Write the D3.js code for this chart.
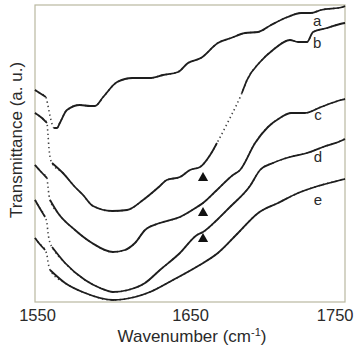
<!DOCTYPE html>
<html>
<head>
<meta charset="utf-8">
<script src="https://cdn.jsdelivr.net/npm/d3@7"></script>
<style>
  body { margin: 0; background: #fff; }
  text { font-family: "Liberation Sans", Arial, sans-serif; fill: #2a2a2a; }
</style>
</head>
<body>
<script>
// spectra: [wavenumber, transmittance (a.u.)]
const curveA = [[1550,212],[1553,209],[1557,205],[1558.4,196],[1559.7,186],[1561,178],[1562.3,174],[1564.2,174],
  [1566,179],[1570.6,192],[1579,197],[1585.5,196],[1588.7,196],[1594,205],[1603,220],[1613,224],[1624,224],
  [1632.6,227],[1642.3,230],[1648.7,239],[1657,244],[1668,259],[1676.5,264],[1685.5,269],[1694,270],
  [1702.3,277],[1713,285],[1721.6,289],[1728,289],[1734.5,292],[1748.7,295],[1750,296]];
const curveB = [[1550,189],[1554.5,184],[1557.7,179],[1558.4,167],[1559,154],[1559.7,145],[1561,139],[1568,129],
  [1575.8,115],[1581,107],[1587.4,96],[1599.7,91],[1609.4,92],[1619.7,102],[1630.6,116],[1635,122],
  [1643.5,125],[1650,132],[1656.5,135],[1663,147],[1667.4,159],[1675.8,184],[1683.5,209],[1686.8,222],
  [1695.2,240],[1703.5,252],[1714.5,262],[1719.7,260],[1725.5,260],[1729.4,270],[1738.4,274],[1746.8,278],[1750,279]];
const curveC = [[1550,137],[1554,130],[1557.7,124],[1558.4,115],[1559,107],[1559.7,102],[1564.8,89],[1575.8,72],
  [1586.8,59],[1600.3,50],[1608,52],[1614.5,59],[1621,72],[1630.6,79],[1643.5,85],[1654.5,95],[1658.4,99],
  [1667.4,112],[1677.7,127],[1682.3,132],[1692,159],[1700.3,175],[1708,184],[1715.2,189],[1724.2,189],
  [1734.5,195],[1747.4,202],[1750,203]];
const curveD = [[1550,102],[1553,94],[1556.5,85],[1557.7,79],[1558.4,69],[1559.7,59],[1561,55],[1569.4,39],
  [1582.3,22],[1592,14],[1600.3,10],[1610,12],[1621,19],[1630.6,32],[1643.5,49],[1654.5,67],[1658.4,70],
  [1667.4,82],[1675.8,95],[1688.7,116],[1695.2,132],[1703.5,139],[1714.5,145],[1725.5,149],[1735.8,155],
  [1748.7,162],[1750,163]];
const curveE = [[1550,64],[1553,58],[1556.5,52],[1557.7,47],[1558.4,40],[1559.7,32],[1569.4,19],[1582.3,9],
  [1600.3,2],[1614.5,5],[1624.2,10],[1639,22],[1655.2,36],[1668,49],[1681,69],[1694,89],[1706.8,99],
  [1719.7,109],[1732.6,116],[1747.4,122],[1750,123]];

const curveNames = ['a', 'b', 'c', 'd', 'e'];
const curves = [curveA, curveB, curveC, curveD, curveE];
// wavenumber spans where the scanned trace is only sparse dots
const sparseSpans = [
  [[1557, 1562.3]],
  [[1557.7, 1561]],
  [[1557.7, 1559.7]],
  [[1556.5, 1561]],
  [[1556.5, 1559.7]]
];
sparseSpans[1].push([1667.4, 1683.5]);

const labelPos = [[1732, 281], [1732, 259], [1732.6, 187], [1732.6, 145], [1732.6, 102]];
const markers = [[1658.4, 124], [1658.4, 89], [1658.4, 63]];
const tickValues = [1550, 1650, 1750];

const W = 356, H = 346;
const M = { left: 35, right: 345, top: 5, bottom: 302 };

const svg = d3.select('body').append('svg').attr('width', W).attr('height', H);

const x = d3.scaleLinear().domain([1550, 1750]).range([M.left, M.right]);
const y = d3.scaleLinear().domain([0, 297]).range([M.bottom, M.top]);

svg.append('rect')
  .attr('x', M.left).attr('y', M.top)
  .attr('width', M.right - M.left).attr('height', M.bottom - M.top)
  .attr('fill', 'none').attr('stroke', '#b9b8a0').attr('stroke-width', 1.2);

const inSpan = (w, spans) => spans.some(([s, e]) => w > s && w < e);

curves.forEach((data, i) => {
  const spans = sparseSpans[i];
  svg.append('path')
    .datum(data)
    .attr('fill', 'none')
    .attr('stroke', '#444')
    .attr('stroke-width', 1.6)
    .attr('stroke-dasharray', '1.4,3')
    .attr('d', d3.line().curve(d3.curveMonotoneX).x(d => x(d[0])).y(d => y(d[1])));
  svg.append('path')
    .datum(data)
    .attr('fill', 'none')
    .attr('stroke', '#1e1e1e')
    .attr('stroke-width', 1.8)
    .attr('stroke-linejoin', 'round')
    .attr('d', d3.line().curve(d3.curveMonotoneX).defined(d => !inSpan(d[0], spans)).x(d => x(d[0])).y(d => y(d[1])));
});

svg.selectAll('.curve-label')
  .data(labelPos)
  .join('text')
  .attr('class', 'curve-label')
  .attr('x', d => x(d[0]))
  .attr('y', d => y(d[1]))
  .attr('dy', '0.35em')
  .attr('text-anchor', 'middle')
  .style('font-size', '15px')
  .text((d, i) => curveNames[i]);

svg.selectAll('.marker')
  .data(markers)
  .join('path')
  .attr('class', 'marker')
  .attr('transform', d => `translate(${x(d[0])},${y(d[1])})`)
  .attr('d', d3.symbol().type(d3.symbolTriangle).size(45))
  .attr('fill', '#111');

const xAxis = svg.append('g')
  .attr('transform', `translate(0,${M.bottom})`)
  .call(d3.axisBottom(x).tickValues(tickValues).tickSize(0).tickPadding(7).tickFormat(d3.format('d')));
xAxis.select('.domain').remove();
xAxis.selectAll('text')
  .style('font-size', '16.5px')
  .style('font-family', '"Liberation Sans", Arial, sans-serif')
  .attr('fill', '#2a2a2a');
xAxis.selectAll('.tick').filter(d => d === 1750).select('text')
  .attr('text-anchor', 'end').attr('dx', 8);
xAxis.selectAll('.tick').filter(d => d === 1550).select('text').attr('dx', 2);

const xTitle = svg.append('text')
  .attr('x', 192).attr('y', 342)
  .attr('text-anchor', 'middle')
  .style('font-size', '17px');
xTitle.append('tspan').text('Wavenumber (cm');
xTitle.append('tspan').attr('dy', -6).style('font-size', '11px').text('-1');
xTitle.append('tspan').attr('dy', 6).text(')');

svg.append('text')
  .attr('transform', 'translate(22,140) rotate(-90)')
  .attr('text-anchor', 'middle')
  .style('font-size', '17px')
  .text('Transmittance (a. u.)');
</script>
</body>
</html>
